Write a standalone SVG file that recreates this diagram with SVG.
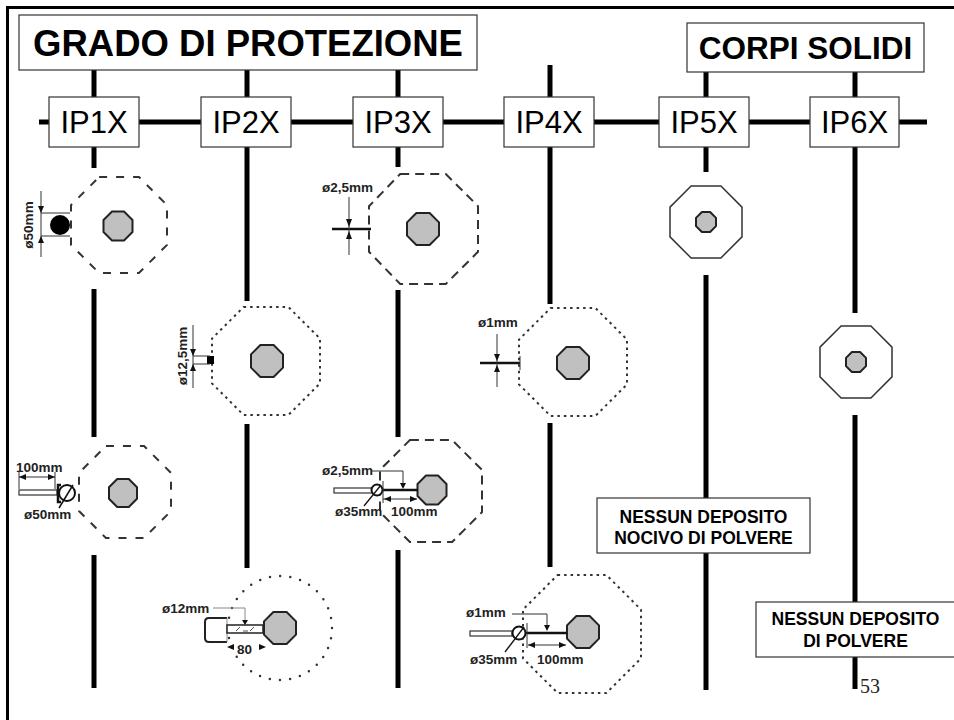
<svg xmlns="http://www.w3.org/2000/svg" width="954" height="720" viewBox="0 0 954 720">
<style>
.box{fill:#fff;stroke:#333;stroke-width:1.2}
.title{font-family:"Liberation Sans",Arial,sans-serif;font-weight:bold;fill:#000}
.ip{font-family:"Liberation Sans",Arial,sans-serif;font-size:31px;fill:#000;text-anchor:middle}
.note{font-family:"Liberation Sans",Arial,sans-serif;font-weight:bold;font-size:17.5px;fill:#000;text-anchor:middle}
.lbl{font-family:"Liberation Sans",Arial,sans-serif;font-weight:bold;font-size:13.5px;fill:#222}
.conn{stroke:#000;stroke-width:5;fill:none}
.gray{fill:#c0c0c0;stroke:#222;stroke-width:2;stroke-linejoin:round}
.dash{fill:none;stroke:#333;stroke-width:2;stroke-dasharray:8 9}
.dash2{fill:none;stroke:#333;stroke-width:2;stroke-dasharray:9 6}
.dot{fill:none;stroke:#333;stroke-width:2;stroke-dasharray:2.5 4}
.dot2{fill:none;stroke:#333;stroke-width:2.5;stroke-dasharray:0 10.2;stroke-linecap:round}
.solid{fill:#fff;stroke:#333;stroke-width:1.5}
.thin{stroke:#333;stroke-width:1;fill:none}
.thick{stroke:#111;stroke-width:2.5;fill:none}
.ah{fill:#111}
</style>

<!-- frame -->
<g id="frame">
<line x1="7.5" y1="7.5" x2="954" y2="7.5" stroke="#000" stroke-width="3"/>
<line x1="7.5" y1="6" x2="7.5" y2="720" stroke="#000" stroke-width="3"/>
</g>

<!-- connectors -->
<g id="connectors" class="conn">
<line x1="39" y1="122" x2="927" y2="122"/>
<line x1="94" y1="70" x2="94" y2="97"/>
<line x1="94" y1="147" x2="94" y2="168"/>
<line x1="94" y1="289" x2="94" y2="437"/>
<line x1="94" y1="555" x2="94" y2="688"/>
<line x1="247" y1="70" x2="247" y2="97"/>
<line x1="247" y1="147" x2="247" y2="301"/>
<line x1="247" y1="424" x2="247" y2="568"/>
<line x1="398" y1="70" x2="398" y2="97"/>
<line x1="398" y1="147" x2="398" y2="167"/>
<line x1="398" y1="290" x2="398" y2="437"/>
<line x1="398" y1="550" x2="398" y2="688"/>
<line x1="550" y1="65" x2="550" y2="97"/>
<line x1="550" y1="147" x2="550" y2="304"/>
<line x1="550" y1="423" x2="550" y2="567"/>
<line x1="706" y1="72" x2="706" y2="97"/>
<line x1="706" y1="147" x2="706" y2="172"/>
<line x1="706" y1="275" x2="706" y2="498"/>
<line x1="706" y1="553" x2="706" y2="690"/>
<line x1="855" y1="72" x2="855" y2="97"/>
<line x1="855" y1="147" x2="855" y2="313"/>
<line x1="855" y1="415" x2="855" y2="602"/>
<line x1="855" y1="657" x2="855" y2="689"/>
</g>

<!-- title boxes -->
<g id="title-grado">
<rect class="box" x="19" y="15" width="458" height="55"/>
<text class="title" x="248" y="56" font-size="36.5" text-anchor="middle">GRADO DI PROTEZIONE</text>
</g>
<g id="title-corpi">
<rect class="box" x="687" y="23" width="237" height="49"/>
<text class="title" x="805.5" y="59" font-size="31.5" text-anchor="middle">CORPI SOLIDI</text>
</g>

<!-- IP boxes -->
<g id="ip1x"><rect class="box" x="49" y="97" width="90" height="50"/><text class="ip" x="94" y="133">IP1X</text></g>
<g id="ip2x"><rect class="box" x="201" y="97" width="90" height="50"/><text class="ip" x="246" y="133">IP2X</text></g>
<g id="ip3x"><rect class="box" x="353" y="97" width="90" height="50"/><text class="ip" x="398" y="133">IP3X</text></g>
<g id="ip4x"><rect class="box" x="504" y="97" width="90" height="50"/><text class="ip" x="549" y="133">IP4X</text></g>
<g id="ip5x"><rect class="box" x="659" y="97" width="90" height="50"/><text class="ip" x="704" y="133">IP5X</text></g>
<g id="ip6x"><rect class="box" x="810" y="97" width="89" height="50"/><text class="ip" x="854.5" y="133">IP6X</text></g>

<!-- IP1X figure 1 : sphere 50mm -->
<g id="ip1x-fig1">
<polygon class="dash" points="99.1,177 138.9,177 167,205.1 167,244.9 138.9,273 99.1,273 71,244.9 71,205.1"/>
<polygon class="gray" points="112,211.5 124,211.5 132.5,220 132.5,232 124,240.5 112,240.5 103.5,232 103.5,220"/>
<circle cx="60" cy="225" r="10" fill="#000"/>
<line class="thin" x1="41" y1="191" x2="41" y2="257"/>
<line class="thin" x1="41" y1="213" x2="70" y2="213"/>
<line class="thin" x1="41" y1="236" x2="70" y2="236"/>
<polygon class="ah" points="38,206 44,206 41,213"/>
<polygon class="ah" points="38,243 44,243 41,236"/>
<text class="lbl" x="33" y="225" text-anchor="middle" transform="rotate(-90 33 225)">ø50mm</text>
</g>

<!-- IP1X figure 2 : test finger 50mm -->
<g id="ip1x-fig2">
<polygon class="dash" points="105.95,446 144.05,446 171,472.95 171,511.05 144.05,538 105.95,538 79,511.05 79,472.95"/>
<polygon class="gray" points="117.2,479 128.8,479 137,487.2 137,498.8 128.8,507 117.2,507 109,498.8 109,487.2"/>
<rect x="19" y="490" width="38" height="5" fill="#fff" stroke="#333" stroke-width="1.2"/>
<path class="thick" d="M61,485 H58 V502 H61" stroke-width="2"/>
<circle cx="67" cy="493" r="8" fill="#fff" stroke="#111" stroke-width="2"/>
<line x1="73" y1="485" x2="59" y2="508" stroke="#111" stroke-width="1.5"/>
<line class="thin" x1="19" y1="472" x2="19" y2="489"/>
<line class="thin" x1="55" y1="472" x2="55" y2="489"/>
<line class="thin" x1="19" y1="477" x2="55" y2="477"/>
<polygon class="ah" points="19,477 26,474 26,480"/>
<polygon class="ah" points="55,477 48,474 48,480"/>
<text class="lbl" x="16" y="472">100mm</text>
<text class="lbl" x="24" y="519">ø50mm</text>
</g>

<!-- IP2X figure 1 : 12.5mm -->
<g id="ip2x-fig1">
<polygon class="dot" points="243.6,307 288.4,307 320,338.6 320,383.4 288.4,415 243.6,415 212,383.4 212,338.6"/>
<polygon class="gray" points="260.4,345 273.6,345 283,354.4 283,367.6 273.6,377 260.4,377 251,367.6 251,354.4"/>
<rect x="207" y="356" width="7" height="8" fill="#000"/>
<line class="thin" x1="193" y1="325" x2="193" y2="388"/>
<line class="thin" x1="193" y1="356" x2="210" y2="356"/>
<line class="thin" x1="193" y1="364" x2="210" y2="364"/>
<polygon class="ah" points="190,349 196,349 193,356"/>
<polygon class="ah" points="190,371 196,371 193,364"/>
<text class="lbl" x="187" y="356" font-size="15" text-anchor="middle" transform="rotate(-90 187 356)">ø12,5mm</text>
</g>

<!-- IP2X figure 2 : 12mm finger -->
<g id="ip2x-fig2">
<circle class="dot2" cx="280" cy="628" r="52"/>
<polygon class="gray" points="273.4,612 286.6,612 296,621.4 296,634.6 286.6,644 273.4,644 264,634.6 264,621.4"/>
<path d="M227,618 H209 Q205,618 205,622 V638 Q205,642 209,642 H227" fill="#fff" stroke="#222" stroke-width="2"/>
<line x1="227" y1="618" x2="227" y2="642" stroke="#888" stroke-width="1"/>
<rect x="227" y="625" width="36" height="8" fill="#fff" stroke="#222" stroke-width="1.5"/>
<path d="M236,631 L240,627 M250,631 L254,627 M243,631 h5" stroke="#555" stroke-width="1" fill="none"/>
<path d="M213,608 H245 V622" stroke="#888" stroke-width="1" fill="none"/>
<polygon class="ah" points="242,620 248,620 245,625"/>
<polygon class="ah" points="227,647 234,644 234,650"/>
<polygon class="ah" points="266,647 259,644 259,650"/>
<text class="lbl" x="162" y="613" font-size="14.6">ø12mm</text>
<text class="lbl" x="237" y="654" font-size="16">80</text>
</g>

<!-- IP3X figure 1 : 2.5mm -->
<g id="ip3x-fig1">
<polygon class="dash2" points="400.2,174 445.8,174 478,206.2 478,251.8 445.8,284 400.2,284 369,251.8 369,206.2"/>
<polygon class="gray" points="416.4,213 429.6,213 439,222.4 439,235.6 429.6,245 416.4,245 407,235.6 407,222.4"/>
<line class="thick" x1="332" y1="229" x2="371" y2="229"/>
<line class="thin" x1="349" y1="197" x2="349" y2="255"/>
<polygon class="ah" points="346,219 352,219 349,227"/>
<polygon class="ah" points="346,239 352,239 349,231"/>
<text class="lbl" x="322" y="192" font-size="14">ø2,5mm</text>
</g>

<!-- IP3X figure 2 : 2.5mm probe -->
<g id="ip3x-fig2">
<polygon class="dash2" points="409.9,440 452.1,440 482,469.9 482,512.1 452.1,542 409.9,542 380,512.1 380,469.9"/>
<polygon class="gray" points="426,475.5 438,475.5 446.5,484 446.5,496 438,504.5 426,504.5 417.5,496 417.5,484"/>
<rect x="334" y="488" width="38" height="5" fill="#fff" stroke="#333" stroke-width="1.2"/>
<circle cx="377" cy="490" r="5.5" fill="#fff" stroke="#111" stroke-width="2"/>
<line x1="381" y1="485" x2="364" y2="506" stroke="#111" stroke-width="1.3"/>
<line class="thick" x1="383" y1="490" x2="418" y2="490"/>
<line class="thin" x1="383" y1="481" x2="383" y2="503"/>
<path class="thin" d="M372,471 H403 V485"/>
<polygon class="ah" points="400,483 406,483 403,489"/>
<line class="thin" x1="383" y1="499" x2="417" y2="499"/>
<polygon class="ah" points="384,499 391,496 391,502"/>
<polygon class="ah" points="417,499 410,496 410,502"/>
<text class="lbl" x="322" y="475">ø2,5mm</text>
<text class="lbl" x="335" y="516" font-size="13">ø35mm</text>
<text class="lbl" x="391" y="516">100mm</text>
</g>

<!-- IP4X figure 1 : 1mm -->
<g id="ip4x-fig1">
<polygon class="dot" points="550.6,308 595.4,308 627,339.6 627,384.4 595.4,416 550.6,416 519,384.4 519,339.6"/>
<polygon class="gray" points="566.4,347 579.6,347 589,356.4 589,369.6 579.6,379 566.4,379 557,369.6 557,356.4"/>
<line class="thick" x1="480" y1="363" x2="520" y2="363"/>
<line class="thin" x1="520" y1="356" x2="520" y2="370"/>
<line class="thin" x1="497" y1="334" x2="497" y2="387"/>
<polygon class="ah" points="494,354 500,354 497,361"/>
<polygon class="ah" points="494,372 500,372 497,365"/>
<text class="lbl" x="478" y="327" font-size="15">ø1mm</text>
</g>

<!-- IP4X figure 2 : 1mm probe -->
<g id="ip4x-fig2">
<polygon class="dot" points="557.6,575 606.4,575 641,609.6 641,658.4 606.4,693 557.6,693 523,658.4 523,609.6"/>
<polygon class="gray" points="576.4,616 589.6,616 599,625.4 599,638.6 589.6,648 576.4,648 567,638.6 567,625.4"/>
<rect x="470" y="631" width="42" height="5" fill="#fff" stroke="#333" stroke-width="1.2"/>
<circle cx="519" cy="633" r="6.5" fill="#fff" stroke="#111" stroke-width="2"/>
<line x1="524" y1="627" x2="505" y2="652" stroke="#111" stroke-width="1.3"/>
<line class="thick" x1="526" y1="633" x2="567" y2="633"/>
<line class="thin" x1="527" y1="623" x2="527" y2="648"/>
<path class="thin" d="M512,614 H547 V627"/>
<polygon class="ah" points="544,625 550,625 547,631"/>
<line class="thin" x1="528" y1="645" x2="566" y2="645"/>
<polygon class="ah" points="528,645 535,642 535,648"/>
<polygon class="ah" points="566,645 559,642 559,648"/>
<text class="lbl" x="466" y="617" font-size="15">ø1mm</text>
<text class="lbl" x="470" y="664" font-size="14.5">ø35mm</text>
<text class="lbl" x="537" y="664" font-size="14.5">100mm</text>
</g>

<!-- IP5X / IP6X -->
<g id="ip5x-fig">
<polygon class="solid" points="691.1,186 720.9,186 742,207.1 742,236.9 720.9,258 691.1,258 670,236.9 670,207.1"/>
<polygon class="gray" stroke-width="1.5" points="701.9,212 710.1,212 716,217.9 716,226.1 710.1,232 701.9,232 696,226.1 696,217.9"/>
</g>
<g id="ip6x-fig">
<polygon class="solid" points="841.1,326 870.9,326 892,347.1 892,376.9 870.9,398 841.1,398 820,376.9 820,347.1"/>
<polygon class="gray" stroke-width="1.5" points="851.9,352 860.1,352 866,357.9 866,366.1 860.1,372 851.9,372 846,366.1 846,357.9"/>
</g>

<!-- notes -->
<g id="note-ip5x">
<rect class="box" x="597" y="498" width="213" height="55"/>
<text class="note" x="703.5" y="523">NESSUN DEPOSITO</text>
<text class="note" x="703.5" y="544">NOCIVO DI POLVERE</text>
</g>
<g id="note-ip6x">
<rect class="box" x="756" y="602" width="210" height="55"/>
<text class="note" x="855.5" y="625">NESSUN DEPOSITO</text>
<text class="note" x="855.5" y="647">DI POLVERE</text>
</g>

<text id="page-number" x="860" y="693" font-family="'Liberation Serif','Times New Roman',serif" font-size="20" fill="#222">53</text>
</svg>
